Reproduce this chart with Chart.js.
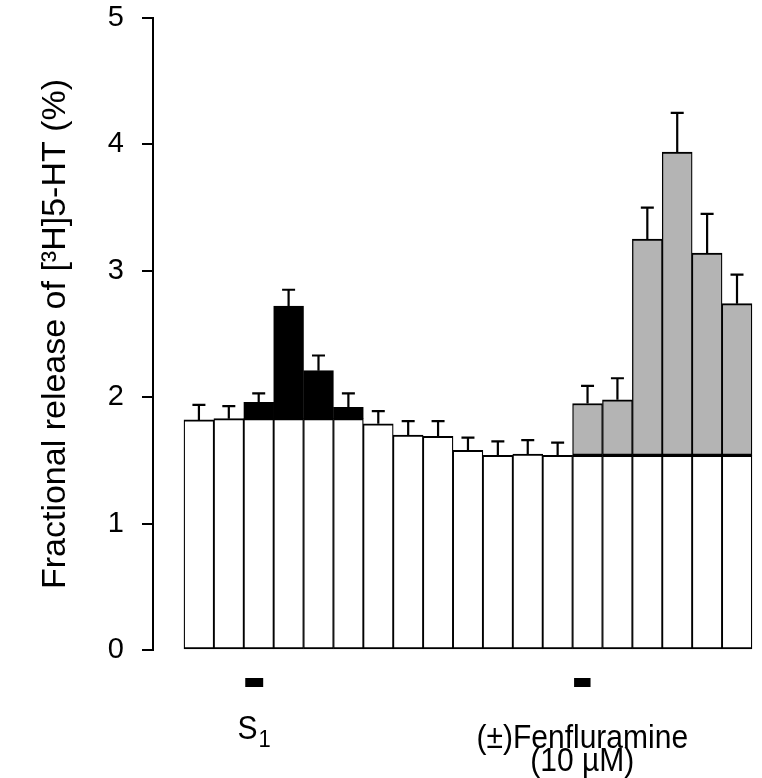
<!DOCTYPE html>
<html lang="en">
<head>
<meta charset="UTF-8">
<title>Fractional release of [3H]5-HT</title>
<script src="https://cdn.jsdelivr.net/npm/chart.js"></script>
<style>
body { margin: 0; background: #fff; overflow: hidden; }
#releaseChart { display: block; }
</style>
</head>
<body>

<canvas id="releaseChart" width="762" height="778"></canvas>

<script>
// one bar per collected fraction
const fractions = [1, 2, 3, 4, 5, 6, 7, 8, 9, 10, 11, 12, 13, 14, 15, 16, 17, 18, 19];
// total fractional release (%) = top of each bar
const release = [1.82, 1.83, 1.96, 2.72, 2.21, 1.92, 1.79, 1.70, 1.69, 1.58, 1.54, 1.55, 1.54,
                 1.95, 1.98, 3.25, 3.94, 3.14, 2.74];
// basal outflow (white part of the bar)
const basal = [1.82, 1.83, 1.83, 1.83, 1.83, 1.83, 1.79, 1.70, 1.69, 1.58, 1.54, 1.55, 1.54,
               1.54, 1.54, 1.54, 1.54, 1.54, 1.54];
// S.E.M., drawn upwards only
const sem = [0.12, 0.10, 0.07, 0.13, 0.12, 0.11, 0.10, 0.11, 0.12, 0.10, 0.11, 0.11, 0.10,
             0.14, 0.17, 0.25, 0.31, 0.31, 0.23];
// fractions with evoked overflow
const s1Fractions = [3, 4, 5, 6];
const fenFractions = [14, 15, 16, 17, 18, 19];
// stimulus periods (in fraction units) and their names
const stimulusNames = ['S', '(±)Fenfluramine'];
const stimulusSub = ['1', ''];
const stimulusNotes = ['', '(10 µM)'];
const stimulusStart = [2.55, 13.55];
const stimulusEnd = [3.15, 14.1];

const FONT = '"Liberation Sans", Arial, Helvetica, sans-serif';
Chart.defaults.font.family = FONT;
Chart.defaults.color = '#000';

const basalData = fractions.map((x, i) => ({ x: x, y: basal[i] }));
const evokedData = fractions.map((x, i) => {
    const evoked = s1Fractions.includes(x) || fenFractions.includes(x);
    return { x: x, y: evoked ? +(release[i] - basal[i]).toFixed(3) : null };
});
const evokedColors = fractions.map(x => s1Fractions.includes(x) ? '#000000' : '#b4b4b4');

// error bars on top of each bar
const errorBars = {
    id: 'errorBars',
    afterDatasetsDraw(chart) {
        const { ctx, chartArea, scales: { x, y } } = chart;
        ctx.save();
        ctx.beginPath();
        ctx.rect(chartArea.left, chartArea.top - 2, chartArea.width, chartArea.height + 2);
        ctx.clip();
        ctx.strokeStyle = '#000';
        ctx.lineWidth = 2.2;
        fractions.forEach((f, i) => {
            const px = x.getPixelForValue(f);
            const y0 = y.getPixelForValue(release[i]);
            const y1 = y.getPixelForValue(release[i] + sem[i]);
            ctx.beginPath();
            ctx.moveTo(px, y0);
            ctx.lineTo(px, y1);
            ctx.moveTo(px - 6.5, y1);
            ctx.lineTo(px + 6.5, y1);
            ctx.stroke();
        });
        ctx.restore();
    }
};

// stimulus markers and names under the bars (text slightly stretched upright, as in the print)
const stimulusLabels = {
    id: 'stimulusLabels',
    afterDraw(chart) {
        const { ctx, chartArea, scales: { x } } = chart;
        const base = chartArea.bottom;
        const drawText = (txt, px, py, size) => {
            ctx.save();
            ctx.translate(px, py);
            ctx.scale(1, 1.1);
            ctx.font = size + 'px ' + FONT;
            ctx.fillText(txt, 0, 0);
            ctx.restore();
        };
        ctx.save();
        ctx.fillStyle = '#000';
        ctx.textBaseline = 'alphabetic';
        stimulusNames.forEach((name, i) => {
            const x0 = x.getPixelForValue(stimulusStart[i]);
            const x1 = x.getPixelForValue(stimulusEnd[i]);
            const cx = (x0 + x1) / 2;
            ctx.fillRect(x0, base + 28, x1 - x0, 9);

            ctx.font = '30px ' + FONT;
            const w = ctx.measureText(name).width;
            let subW = 0;
            if (stimulusSub[i]) {
                ctx.font = '22px ' + FONT;
                subW = ctx.measureText(stimulusSub[i]).width + 1;
            }
            const left = cx - (w + subW) / 2;
            ctx.textAlign = 'left';
            drawText(name, left, base + (stimulusSub[i] ? 89 : 98), 30);
            if (stimulusSub[i]) {
                drawText(stimulusSub[i], left + w + 1, base + 97, 22);
            }
            if (stimulusNotes[i]) {
                ctx.textAlign = 'center';
                drawText(stimulusNotes[i], cx, base + 121, 30);
            }
        });
        ctx.restore();
    }
};

const barBorder = { top: 2, bottom: 2, left: 1.3, right: 1.3 };

new Chart(document.getElementById('releaseChart'), {
    type: 'bar',
    data: {
        datasets: [{
            label: 'Basal',
            data: basalData,
            backgroundColor: '#ffffff',
            borderColor: '#000',
            borderWidth: barBorder,
            borderSkipped: false,
            barPercentage: 1,
            categoryPercentage: 1
        }, {
            label: 'Evoked',
            data: evokedData,
            backgroundColor: evokedColors,
            borderColor: '#000',
            borderWidth: barBorder,
            borderSkipped: false,
            barPercentage: 1,
            categoryPercentage: 1
        }]
    },
    options: {
        responsive: false,
        animation: false,
        layout: { padding: { top: 18, bottom: 128, left: 0, right: 0 } },
        plugins: {
            legend: { display: false },
            tooltip: { enabled: false }
        },
        scales: {
            x: {
                type: 'linear',
                stacked: true,
                display: false,
                min: 0,
                max: 19.3,
                afterBuildTicks: s => { s.ticks = fractions.map(v => ({ value: v })); }
            },
            y: {
                stacked: true,
                min: 0,
                max: 5,
                afterFit: s => {
                    s.width = 153;
                    s.paddingTop = 0;
                    s.paddingBottom = 0;
                },
                ticks: {
                    stepSize: 1,
                    padding: 18,
                    font: { size: 29 },
                    color: '#000'
                },
                grid: {
                    display: true,
                    drawOnChartArea: false,
                    drawTicks: true,
                    tickLength: 11,
                    color: '#000',
                    lineWidth: 2
                },
                border: { display: true, color: '#000', width: 2 },
                title: {
                    display: true,
                    text: 'Fractional release of [³H]5-HT (%)',
                    font: { size: 34 },
                    color: '#000',
                    padding: { top: 35, bottom: 0 }
                }
            }
        }
    },
    plugins: [errorBars, stimulusLabels]
});
</script>

</body>
</html>
